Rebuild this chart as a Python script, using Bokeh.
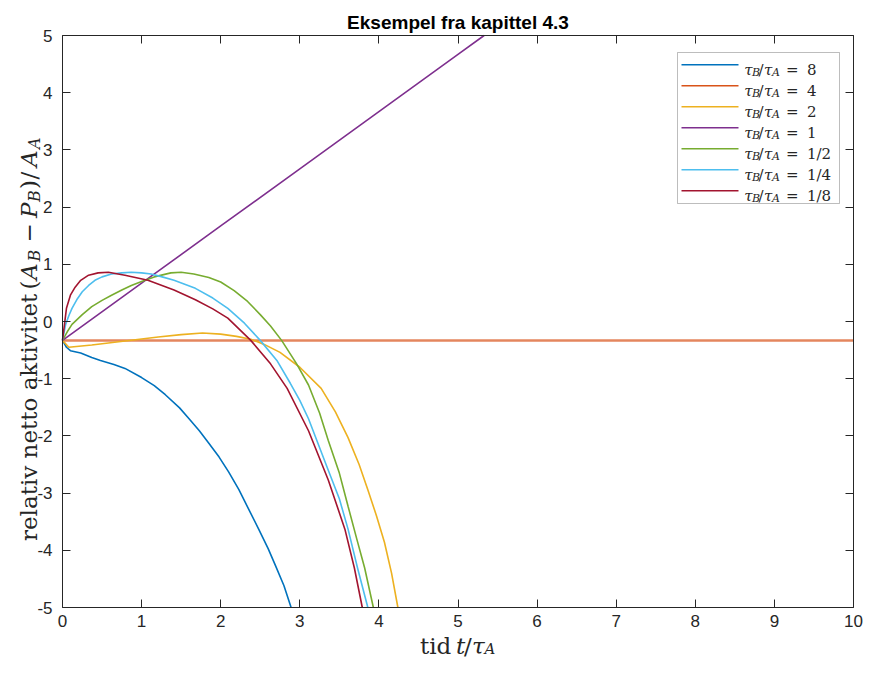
from bokeh.plotting import figure
from bokeh.models import Range1d, FixedTicker, LinearAxis, Label, BoxAnnotation
from bokeh.embed import file_html
from bokeh.resources import INLINE
import math

# ---------------- data ----------------
t_8 = [0, 0.05, 0.10, 0.23, 0.37, 0.48, 0.65, 0.79, 1.0, 1.16, 1.3, 1.48, 1.6, 1.73, 1.85, 1.98, 2.1, 2.23, 2.35, 2.48, 2.6, 2.69, 2.8, 2.89]
y_8 = [-0.33, -0.45, -0.51, -0.55, -0.63, -0.68, -0.75, -0.82, -0.98, -1.12, -1.28, -1.51, -1.70, -1.91, -2.13, -2.37, -2.63, -2.94, -3.27, -3.63, -3.97, -4.26, -4.62, -5.0]

t_4 = [0, 10]
y_4 = [-0.33, -0.33]

t_2 = [0, 0.08, 0.37, 0.79, 1.21, 1.5, 1.77, 2.0, 2.2, 2.38, 2.55, 2.75, 3.0, 3.27, 3.45, 3.61, 3.75, 3.86, 3.97, 4.07, 4.16, 4.24]
y_2 = [-0.33, -0.45, -0.41, -0.34, -0.27, -0.23, -0.20, -0.22, -0.26, -0.31, -0.40, -0.54, -0.80, -1.17, -1.58, -2.03, -2.50, -2.94, -3.40, -3.86, -4.40, -5.0]

t_1 = [0, 1, 2, 3, 4, 5, 5.33]
y_1 = [-0.33, 0.67, 1.67, 2.67, 3.67, 4.67, 5.0]

t_12 = [0, 0.06, 0.12, 0.25, 0.37, 0.5, 0.62, 0.75, 0.87, 1.0, 1.16, 1.37, 1.5, 1.66, 1.85, 2.0, 2.17, 2.34, 2.5, 2.63, 2.77, 2.96, 3.11, 3.25, 3.36, 3.5, 3.61, 3.72, 3.82, 3.93]
y_12 = [-0.33, -0.18, -0.05, 0.12, 0.26, 0.37, 0.46, 0.55, 0.63, 0.70, 0.78, 0.85, 0.86, 0.83, 0.77, 0.69, 0.54, 0.35, 0.12, -0.08, -0.33, -0.74, -1.11, -1.60, -2.08, -2.65, -3.23, -3.80, -4.31, -5.0]

t_14 = [0, 0.04, 0.08, 0.12, 0.18, 0.25, 0.33, 0.41, 0.5, 0.62, 0.75, 0.87, 1.0, 1.12, 1.26, 1.41, 1.68, 1.9, 2.09, 2.3, 2.50, 2.71, 2.88, 3.0, 3.11, 3.36, 3.5, 3.61, 3.73, 3.86]
y_14 = [-0.33, -0.05, 0.10, 0.23, 0.38, 0.52, 0.63, 0.72, 0.78, 0.83, 0.85, 0.86, 0.85, 0.83, 0.78, 0.72, 0.58, 0.41, 0.23, -0.03, -0.33, -0.68, -1.08, -1.38, -1.70, -2.60, -3.10, -3.63, -4.31, -5.0]

t_18 = [0, 0.05, 0.10, 0.16, 0.23, 0.33, 0.45, 0.58, 0.79, 1.08, 1.41, 1.68, 1.9, 2.09, 2.38, 2.63, 2.84, 3.11, 3.36, 3.57, 3.69, 3.79]
y_18 = [-0.33, 0.23, 0.46, 0.60, 0.72, 0.81, 0.85, 0.86, 0.81, 0.72, 0.55, 0.38, 0.22, 0.06, -0.33, -0.74, -1.17, -1.91, -2.77, -3.63, -4.31, -5.0]

ratio_labels = ["8", "4", "2", "1", "1/2", "1/4", "1/8"]
x_ticks = list(range(0, 11))
y_ticks = list(range(-5, 6))
x_tick_labels = [str(v) for v in x_ticks]
y_tick_labels = ["-5", "-4", "-3", "-2", "-1", "0", "1", "2", "3", "4", "5"]
title_text = "Eksempel fra kapittel 4.3"

series = [(t_8, y_8), (t_4, y_4), (t_2, y_2), (t_1, y_1), (t_12, y_12), (t_14, y_14), (t_18, y_18)]
colors = ["#0072BD", "#D95319", "#EDB120", "#7E2F8E", "#77AC30", "#4DBEEE", "#A2142F"]

# ---------------- layout constants (pixels) ----------------
W, H = 865, 659
PL, PR, PT, PB = 62, 853, 35, 607      # where the axes box sits on the canvas
X0, X1, Y0, Y1 = 0, 10, -5, 5
sx = (PR - PL) / (X1 - X0)
sy = (PB - PT) / (Y1 - Y0)

AX = "#262626"
SANS = "Liberation Sans"
SERIF = "DejaVu Serif"

# the frame covers the whole canvas; the axes are pinned to the box edges
p = figure(width=W, height=H, output_backend="svg", toolbar_location=None,
           x_range=Range1d(X0 - PL / sx, X1 + (W - PR) / sx),
           y_range=Range1d(Y0 - (H - PB) / sy, Y1 + PT / sy),
           min_border=0, min_border_left=0, min_border_right=0,
           min_border_top=0, min_border_bottom=0)
p.background_fill_color = "white"
p.border_fill_color = "white"
p.outline_line_color = None
p.xgrid.visible = False
p.ygrid.visible = False

def style_axis(ax, ticks, labels, show_labels, standoff, loc, bounds):
    ax.ticker = FixedTicker(ticks=ticks)
    ax.fixed_location = loc
    ax.bounds = bounds
    ax.axis_line_color = AX
    ax.axis_line_width = 1
    ax.major_tick_line_color = AX
    ax.major_tick_in = 8
    ax.major_tick_out = 0
    ax.minor_tick_line_color = None
    ax.major_label_text_font = SANS
    ax.major_label_text_font_size = "17px"
    ax.major_label_overrides = {t: s for t, s in zip(ticks, labels)}
    if show_labels:
        ax.major_label_text_color = AX
        ax.major_label_standoff = standoff
    else:
        ax.major_label_text_color = None
        ax.major_label_standoff = 0

style_axis(p.xaxis[0], x_ticks, x_tick_labels, True, 7, Y0, (X0, X1))
style_axis(p.yaxis[0], y_ticks, y_tick_labels, True, 10, X0, (Y0, Y1))
top_ax = LinearAxis()
right_ax = LinearAxis()
style_axis(top_ax, x_ticks, x_tick_labels, False, 0, Y1, (X0, X1))
style_axis(right_ax, y_ticks, y_tick_labels, False, 0, X1, (Y0, Y1))
p.add_layout(top_ax, "above")
p.add_layout(right_ax, "right")

for (tx, ty), c in zip(series, colors):
    if c == "#D95319":
        p.line(tx, ty, line_color=c, line_width=2.5, line_alpha=0.7)
    else:
        p.line(tx, ty, line_color=c, line_width=1.6)

# canvas pixel (from top-left) -> screen units of the frame (from bottom-left)
def fx(px):
    return px
def fy(py):
    return H - py

def piece(text, px, py, size, style="normal", angle=0.0, font=SERIF, color=AX, align="left"):
    p.add_layout(Label(x=fx(px), y=fy(py), x_units="screen", y_units="screen", text=text,
                       text_font=font, text_font_size=f"{size}px", text_font_style=style,
                       angle=angle, text_baseline="alphabetic", text_align=align,
                       text_color=color))

# title
piece(title_text, (PL + PR) / 2, 22, 19, style="bold", font=SANS, color="black", align="center")

# x axis label: tid t/tau_A
xb = 645
piece("tid", 419.5, xb, 23)
piece("t", 455.5, xb, 23, "italic")
piece("/", 463.5, xb, 23)
piece("τ", 471.5, xb, 23, "italic")
piece("A", 484, xb + 3, 15, "italic")

# y axis label (rotated): relativ netto aktivitet (A_B - P_B)/A_A
R = math.pi / 2
yb = 28
ys = 6
piece("relativ netto aktivitet", yb, 540.5, 23, angle=R)
piece("(", yb, 289, 23, angle=R)
piece("A", yb, 279.5, 23, "italic", angle=R)
piece("B", yb + ys, 261, 16, "italic", angle=R)
piece("−", yb, 242, 23, angle=R)
piece("P", yb, 217.5, 23, "italic", angle=R)
piece("B", yb + ys, 201.5, 16, "italic", angle=R)
piece(")", yb, 188.5, 23, angle=R)
piece("/", yb, 179, 23, angle=R)
piece("A", yb, 166.5, 23, "italic", angle=R)
piece("A", yb + ys, 148.5, 16, "italic", angle=R)

# legend (drawn by hand so that subscripts can be shown)
def sbox(l, r, t, b, **kw):
    p.add_layout(BoxAnnotation(left=fx(l), right=fx(r), top=fy(t), bottom=fy(b),
                               left_units="screen", right_units="screen",
                               top_units="screen", bottom_units="screen", **kw))

sbox(677, 839, 52, 203, fill_color="white", fill_alpha=1.0, line_color=AX, line_width=1)
for i, (lab, c) in enumerate(zip(ratio_labels, colors)):
    cy = 64.3 + 21 * i
    sbox(681, 738, cy - 0.8, cy + 0.8, fill_color=c, fill_alpha=1.0, line_color=None)
    b = cy + 5
    piece("τ", 743.7, b, 15, "italic")
    piece("B", 751.5, b + 3, 11, "italic")
    piece("/", 758, b, 15)
    piece("τ", 763.5, b, 15, "italic")
    piece("A", 771.5, b + 3, 11, "italic")
    piece("=", 785.5, b, 15)
    piece(lab, 806.5, b, 15)

open("out.html", "w").write(file_html(p, INLINE))
